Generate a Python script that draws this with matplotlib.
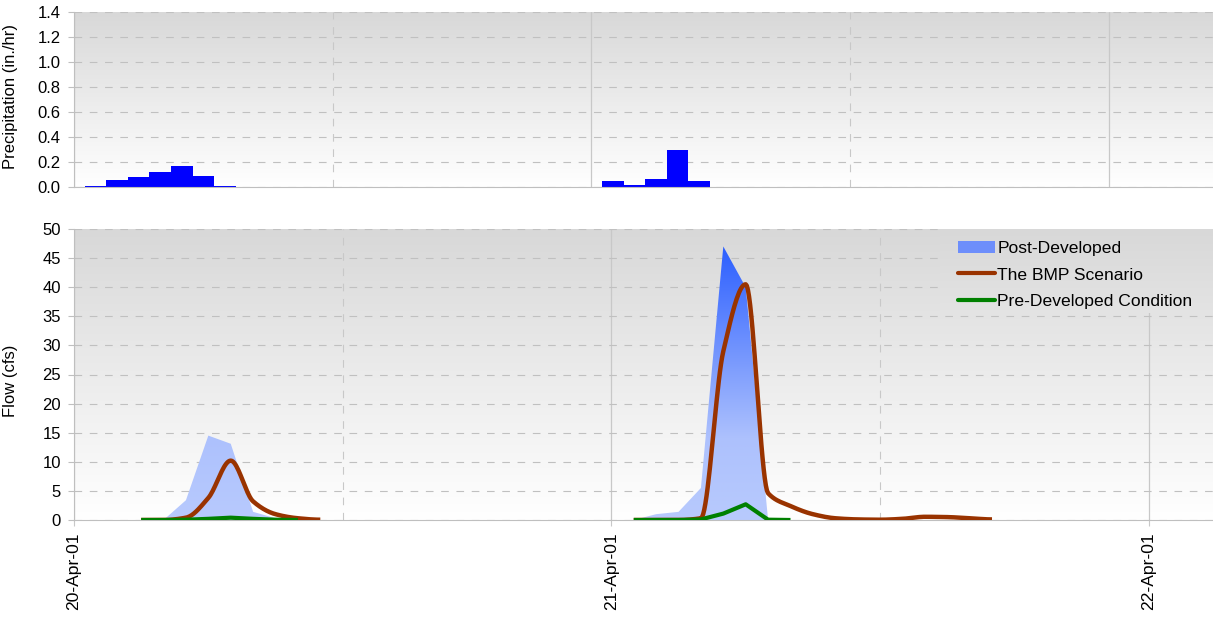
import numpy as np
import matplotlib
matplotlib.use('Agg')
import matplotlib.pyplot as plt
from matplotlib.colors import LinearSegmentedColormap
from matplotlib.patches import Patch
from matplotlib.lines import Line2D

plt.rcParams['font.family'] = ['Liberation Sans', 'DejaVu Sans']
plt.rcParams['font.size'] = 12
plt.rcParams['lines.scale_dashes'] = False

# hours are counted from 20-Apr-01 00:00
rain_hr = [1, 2, 3, 4, 5, 6, 7, 25, 26, 27, 28, 29]
rain_in = [0.01, 0.06, 0.08, 0.12, 0.17, 0.09, 0.01, 0.05, 0.02, 0.065, 0.30, 0.05]

# storm 1 (flow, cfs)
hr_1 = [3, 4, 5, 6, 7, 8, 9, 10, 11]
post_1 = [0, 0, 3.4, 14.5, 13.1, 1.4, 0.3, 0, 0]
bmp_1 = [0, 0, 0.4, 3.8, 10.2, 3.2, 1.0, 0.3, 0.05]
pre_hr_1 = [3, 4, 5, 6, 7, 8, 9, 10]
pre_1 = [0, 0, 0.05, 0.2, 0.4, 0.2, 0.05, 0]

# storm 2
post_hr_2 = [25, 26, 27, 28, 29, 30, 31, 32]
post_2 = [0, 1.0, 1.4, 5.5, 47, 40, 0, 0]
bmp_hr_2 = list(range(25, 42))
bmp_2 = [0, 0, 0, 0.3, 29, 40.5, 4.6, 2.4, 1.0, 0.3, 0.1, 0.05, 0.2, 0.55, 0.5, 0.3, 0.1]
pre_hr_2 = [25, 26, 27, 28, 29, 30, 31, 32]
pre_2 = [0, 0, 0, 0.1, 1.1, 2.7, 0.05, 0]

day_ticks = [0, 24, 48]
half_ticks = [12, 36]
day_labels = ['20-Apr-01', '21-Apr-01', '22-Apr-01']

grid_col = '#c0c0c0'
brown = '#993300'
green = '#008000'


def smooth(x, y, n=20):
    # monotone cubic (no overshoot), like a smoothed excel line
    x = np.asarray(x, float)
    y = np.asarray(y, float)
    h = np.diff(x)
    d = np.diff(y) / h
    m = np.zeros_like(y)
    for i in range(1, len(y) - 1):
        if d[i - 1] * d[i] > 0:
            w1 = 2 * h[i] + h[i - 1]
            w2 = h[i] + 2 * h[i - 1]
            m[i] = (w1 + w2) / (w1 / d[i - 1] + w2 / d[i])
    xs, ys = [], []
    for i in range(len(x) - 1):
        t = np.linspace(0, 1, n, endpoint=False)
        h00 = 2 * t**3 - 3 * t**2 + 1
        h10 = t**3 - 2 * t**2 + t
        h01 = -2 * t**3 + 3 * t**2
        h11 = t**3 - t**2
        xs.append(x[i] + t * h[i])
        ys.append(h00 * y[i] + h10 * h[i] * m[i] + h01 * y[i + 1] + h11 * h[i] * m[i + 1])
    xs.append([x[-1]])
    ys.append([y[-1]])
    return np.concatenate(xs), np.concatenate(ys)


bg = LinearSegmentedColormap.from_list('bg', ['#ffffff', '#d8d8d8'])
flowmap = LinearSegmentedColormap.from_list('flow', [(0, '#b8cafd'), (0.3, '#adc1fd'), (1, '#2c5fff')])
grad = np.linspace(0, 1, 256).reshape(-1, 1)


def style(ax, ymax, ystep):
    ax.imshow(grad, cmap=bg, extent=[0, 1, 0, 1], transform=ax.transAxes,
              aspect='auto', origin='lower', zorder=0, vmin=0, vmax=1)
    ax.set_axisbelow(True)
    for s in ['top', 'right']:
        ax.spines[s].set_visible(False)
    for s in ['left', 'bottom']:
        ax.spines[s].set_color('#bfbfbf')
    ax.set_yticks(np.arange(0, ymax + ystep / 2, ystep))
    ax.set_ylim(0, ymax)
    ax.yaxis.grid(True, color=grid_col, linestyle=(0, (5.5, 5.5)), linewidth=0.8)
    ax.set_xticks(day_ticks)
    ax.set_xticks(half_ticks, minor=True)
    ax.xaxis.grid(True, which='major', color='#c8c8c8', linewidth=0.9)
    ax.xaxis.grid(True, which='minor', color='#c8c8c8', linestyle=(0, (5.5, 5.5)), linewidth=0.8)
    ax.tick_params(axis='y', direction='out', length=4.5, width=0.8, color='#bfbfbf', pad=5, labelsize=12)
    ax.tick_params(axis='x', which='minor', length=0)


fig = plt.figure(figsize=(12.13, 6.17), dpi=100)
ax1 = fig.add_axes([74 / 1213, 1 - 187 / 617, 1139 / 1213, 175 / 617])
ax2 = fig.add_axes([74 / 1213, 1 - 520 / 617, 1139 / 1213, 291 / 617])

# ---- precipitation ----
style(ax1, 1.4, 0.2)
ax1.bar(rain_hr, rain_in, width=1.0, color='#0000ff', zorder=2)
ax1.set_xlim(0, 1139 / 21.556)
ax1.yaxis.set_major_formatter(matplotlib.ticker.FormatStrFormatter('%.1f'))
ax1.tick_params(axis='x', which='major', length=0, labelbottom=False)
ax1.set_ylabel('Precipitation (in./hr)', fontsize=12)
ax1.yaxis.set_label_coords(-56 / 1139, 0.515)

# ---- flow ----
style(ax2, 50, 5)
for hx, q in [(hr_1, post_1), (post_hr_2, post_2)]:
    poly = ax2.fill_between(hx, q, 0, facecolor='none', edgecolor='none')
    im = ax2.imshow(grad, cmap=flowmap, extent=[hx[0], hx[-1], 0, 47], origin='lower',
                    aspect='auto', zorder=1, vmin=0, vmax=1)
    im.set_clip_path(poly.get_paths()[0], transform=ax2.transData)

for hx, q in [(hr_1, bmp_1), (bmp_hr_2, bmp_2)]:
    sx, sy = smooth(hx, q)
    ax2.plot(sx, sy, color=brown, lw=3.2, solid_capstyle='butt', zorder=3)
for hx, q in [(pre_hr_1, pre_1), (pre_hr_2, pre_2)]:
    ax2.plot(hx, q, color=green, lw=3, solid_capstyle='butt', zorder=4)

ax2.set_xticklabels(day_labels, rotation=90)
ax2.tick_params(axis='x', which='major', direction='out', length=4, color='#c8c8c8', pad=5, labelsize=12.6)
ax2.set_ylabel('Flow (cfs)', fontsize=12)
ax2.yaxis.set_label_coords(-56 / 1139, 0.478)

# legend sits on an opaque patch of the background
y0 = 0.71
ax2.imshow(np.linspace(y0, 1, 64).reshape(-1, 1), cmap=bg, extent=[0.76, 1.0, y0, 1.0],
           transform=ax2.transAxes, aspect='auto', origin='lower', zorder=0.7, vmin=0, vmax=1)
ax2.set_xlim(0, 1139 / 22.39)
ax2.set_ylim(0, 50)

handles = [Patch(facecolor='#6d8efb', edgecolor='none'),
           Line2D([], [], color=brown, lw=3, solid_capstyle='round'),
           Line2D([], [], color=green, lw=3, solid_capstyle='round')]
labels = ['Post-Developed', 'The BMP Scenario', 'Pre-Developed Condition']
ax2.legend(handles, labels, loc='upper left', bbox_to_anchor=(0.776, 0.958), frameon=False,
           borderpad=0, borderaxespad=0, handlelength=2.1, handletextpad=0.15,
           labelspacing=0.62, fontsize=12.6)

fig.savefig('out.png', dpi=100)
